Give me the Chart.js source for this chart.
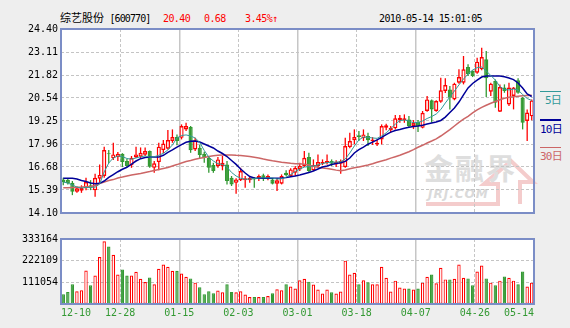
<!DOCTYPE html>
<html>
<head>
<meta charset="utf-8">
<script src="https://cdn.jsdelivr.net/npm/chart.js@4"></script>
<style>
  body { margin: 0; width: 570px; height: 328px; background: #eeeeee; position: relative; overflow: hidden; }
  .bg { position: absolute; background: #fff; }
  .t { position: absolute; top: 12px; font: 10px/14px "DejaVu Sans Mono", "Noto Sans CJK SC"; letter-spacing: -0.6px; white-space: nowrap; }
  .lg { position: absolute; left: 540px; width: 21px; text-align: right; font: 11px/14px "DejaVu Sans Mono", "Noto Sans CJK SC"; letter-spacing: -0.8px; padding-top: 2px; white-space: nowrap; }
  #wm { position: absolute; left: 424px; top: 150px; font: bold 29px/34px "Noto Sans CJK SC"; color: #dedede; letter-spacing: 2px; }
  #wm2 { position: absolute; left: 428px; top: 187px; font: italic bold 12px/14px "DejaVu Sans"; color: #dadada; letter-spacing: 1px; }
  canvas { position: absolute; left: 0; display: block; }
</style>
</head>
<body>
<div class="t" style="left:60px;color:#000"><span style="font-size:11px;letter-spacing:0">综艺股份</span> <span style="letter-spacing:-0.9px">[600770]</span></div>
<div class="t" style="left:163px;color:#f00">20.40</div>
<div class="t" style="left:204px;color:#f00">0.68</div>
<div class="t" style="left:245px;color:#f00">3.45%↑</div>
<div class="t" style="left:379px;color:#000">2010-05-14 15:01:05</div>

<div class="bg" style="left:61px;top:29px;width:473px;height:184px"></div>
<div class="bg" style="left:61px;top:239px;width:473px;height:65px"></div>
<svg style="position:absolute;left:0;top:0" width="570" height="328">
  <polyline points="426,204 498,204 498,184 484,184 511,161 533,182 520,182 520,204" fill="none" stroke="#f4cccc" stroke-width="4"/>
</svg>
<div id="wm">金融界</div>
<div id="wm2">JRJ.COM</div>

<div class="lg" style="top:91px;color:#339999;border-top:1px solid #339999">5日</div>
<div class="lg" style="top:119px;color:#000099;border-top:2px solid #000099">10日</div>
<div class="lg" style="top:147px;color:#cc6666;border-top:1px solid #cc6666">30日</div>

<canvas id="k" width="570" height="226" style="top:0"></canvas>
<canvas id="v" width="570" height="102" style="top:226px"></canvas>

<script>
const dateLabels = ['12-10', '12-28', '01-15', '02-03', '03-01', '03-18', '04-07', '04-26', '05-14'];
const priceTicks = [14.10, 15.39, 16.68, 17.96, 19.25, 20.54, 21.82, 23.11, 24.40];
const volTicks = [111054, 222109, 333164];

const openP = [15.98,15.96,15.79,15.29,15.35,15.48,15.65,15.37,16.02,16.17,
  17.45,17.16,17.23,17.42,17.01,16.77,17.21,17.25,17.36,17.57,
  16.63,16.95,17.62,17.70,18.13,18.35,18.31,18.78,18.91,17.66,
  17.75,17.42,17.19,16.78,16.73,16.73,16.82,16.07,15.79,15.93,
  15.93,15.93,16.07,16.04,16.22,16.04,15.98,15.74,15.74,16.35,
  16.17,16.35,16.54,16.73,17.23,16.49,16.73,16.86,16.90,17.01,
  16.82,16.86,16.67,17.79,18.17,18.45,18.28,18.41,18.13,17.94,
  18.22,18.87,18.73,18.84,19.29,19.29,19.34,18.97,19.19,18.87,
  19.81,20.41,19.81,20.33,20.93,21.02,20.46,21.39,21.39,22.27,
  22.05,21.95,22.14,22.70,20.89,21.49,19.77,21.12,20.18,20.65,
  21.53,20.55,19.25,19.51];
const highP = [16.07,16.04,15.89,15.59,15.65,16.07,15.94,16.30,16.82,17.81,
  17.62,18.03,17.51,17.45,17.12,17.29,17.81,17.77,17.77,17.60,
  17.01,18.03,18.18,18.74,18.78,18.50,19.06,19.15,18.97,18.31,
  17.94,17.53,17.29,16.91,17.23,17.29,17.01,16.17,16.04,16.63,
  16.17,16.11,16.11,16.26,16.30,16.26,16.04,16.04,16.26,16.49,
  16.60,16.73,16.91,17.57,17.47,17.10,17.38,17.10,17.38,17.10,
  17.05,17.10,18.31,18.59,18.78,18.69,18.78,18.59,18.35,18.22,
  19.06,19.10,18.97,19.58,19.58,19.62,19.53,19.30,19.30,19.81,
  20.65,20.46,20.41,21.67,21.64,21.21,21.39,22.14,22.89,22.42,
  22.09,22.79,23.35,23.17,21.39,21.58,21.30,21.30,21.39,21.15,
  21.64,20.59,19.90,20.45];
const lowP = [15.65,15.70,15.10,15.23,15.23,15.38,15.38,15.01,15.79,16.07,
  16.88,17.07,17.01,16.67,16.67,16.63,17.18,17.16,17.29,16.63,
  16.35,16.50,17.44,17.66,18.03,17.89,18.22,18.69,17.47,17.57,
  17.16,16.91,16.35,16.35,16.63,16.49,15.70,15.61,15.18,15.89,
  15.51,15.80,15.51,15.89,15.89,15.93,15.70,15.33,15.70,16.17,
  16.11,16.17,16.45,16.67,16.35,16.45,16.63,16.78,16.82,16.73,
  16.67,16.30,16.63,17.72,17.94,18.13,18.13,17.85,17.91,17.85,
  17.94,18.73,18.59,18.78,19.15,19.15,18.91,18.80,18.63,18.84,
  19.77,19.15,19.77,20.27,20.82,19.90,20.41,21.34,21.30,21.77,
  21.71,21.90,22.09,20.59,20.65,19.99,19.75,20.83,20.09,19.90,
  20.78,18.78,18.13,19.29];
const closeP = [15.83,15.76,15.29,15.48,15.51,15.83,15.51,16.07,16.23,17.62,
  17.39,17.38,17.42,16.95,16.73,17.19,17.38,17.47,17.57,16.69,
  16.88,17.81,17.99,18.18,18.35,18.13,18.97,18.97,17.61,18.17,
  17.34,17.19,16.63,16.45,17.10,16.91,15.89,15.70,15.98,16.45,
  16.04,16.07,15.98,16.17,16.04,16.17,15.74,15.93,16.17,16.22,
  16.54,16.63,16.73,17.19,16.45,16.78,16.95,16.95,17.01,16.86,
  16.95,17.01,17.85,18.13,18.35,18.35,18.50,18.17,18.22,18.03,
  18.97,19.01,18.87,19.40,19.43,19.40,18.97,19.15,18.97,19.71,
  20.46,19.90,20.37,20.97,21.26,20.55,21.34,21.71,22.14,21.86,
  21.77,22.57,22.83,21.65,21.34,20.27,21.15,20.93,21.12,21.12,
  20.83,19.15,19.72,20.40];
const volume = [50500,62100,101000,65600,70700,171600,95900,146400,240800,321600,
  294300,252400,151400,176700,146400,146400,165100,129700,112600,136300,
  101000,180200,201900,190300,170100,170100,156500,139800,131200,109500,
  85800,50500,65600,55500,69200,60600,101000,62100,60600,65600,
  49000,35300,35300,35300,35300,40400,55500,75700,70700,101000,
  89300,79300,121200,129700,114600,99400,74200,54000,74200,60600,
  54000,64100,222100,151400,160000,101000,121200,111100,101000,101000,
  190300,134800,64100,119600,84300,79300,79300,74200,79300,109500,
  139800,151400,106000,185300,126200,126200,129700,201900,134800,131200,
  95900,166600,196900,131200,109500,95900,119600,141300,134800,119600,
  101000,166600,89300,109500];
const ma5 = [15.83,15.78,15.67,15.55,15.50,15.53,15.53,15.55,15.72,16.40,
  16.90,17.18,17.29,17.26,17.15,17.11,17.18,17.25,17.29,17.23,
  17.25,17.33,17.44,17.63,17.91,18.30,18.44,18.47,18.41,18.30,
  18.05,17.60,17.23,17.01,16.86,16.82,16.67,16.37,16.17,16.04,
  15.99,16.00,16.03,16.06,16.07,16.07,16.06,16.00,16.02,16.11,
  16.25,16.42,16.56,16.67,16.70,16.73,16.79,16.87,16.92,16.94,
  16.95,16.97,17.12,17.46,17.85,18.19,18.35,18.34,18.30,18.28,
  18.41,18.59,18.82,19.08,19.27,19.31,19.25,19.15,19.17,19.25,
  19.39,19.50,19.64,19.89,20.26,20.59,20.93,21.27,21.60,21.88,
  22.10,22.24,22.27,22.05,21.80,21.54,21.18,21.01,20.99,21.04,
  20.99,20.73,20.51,20.40];
const ma10 = [16.04,16.04,16.04,16.00,15.92,15.86,15.78,15.74,15.76,15.89,
  16.09,16.25,16.41,16.55,16.66,16.83,17.01,17.14,17.21,17.23,
  17.23,17.23,17.33,17.49,17.63,17.79,17.93,18.06,18.12,18.13,
  18.07,17.96,17.85,17.74,17.57,17.43,17.26,17.04,16.82,16.56,
  16.34,16.14,16.06,16.04,16.04,16.04,16.04,16.04,16.06,16.09,
  16.13,16.17,16.23,16.30,16.37,16.45,16.56,16.67,16.73,16.81,
  16.87,16.91,16.99,17.18,17.46,17.65,17.79,17.95,18.07,18.19,
  18.33,18.49,18.63,18.72,18.77,18.84,18.90,18.94,18.97,19.01,
  19.08,19.14,19.19,19.28,19.47,19.73,19.98,20.31,20.71,21.10,
  21.35,21.54,21.71,21.77,21.77,21.77,21.77,21.73,21.66,21.57,
  21.38,21.10,20.76,20.62];
const ma30 = [15.51,15.52,15.53,15.54,15.55,15.57,15.58,15.64,15.75,15.83,
  15.92,15.97,16.06,16.11,16.17,16.23,16.27,16.31,16.37,16.42,
  16.48,16.53,16.59,16.65,16.73,16.81,16.90,16.98,17.04,17.11,
  17.16,17.21,17.26,17.30,17.33,17.35,17.35,17.35,17.33,17.32,
  17.29,17.26,17.22,17.18,17.12,17.07,17.02,16.98,16.94,16.91,
  16.88,16.86,16.85,16.83,16.79,16.71,16.66,16.62,16.59,16.55,
  16.50,16.47,16.51,16.58,16.63,16.67,16.73,16.79,16.86,16.94,
  17.01,17.08,17.17,17.25,17.33,17.43,17.53,17.65,17.78,17.89,
  18.02,18.13,18.25,18.41,18.59,18.77,18.97,19.17,19.35,19.51,
  19.70,19.87,20.01,20.13,20.24,20.34,20.44,20.52,20.58,20.61,
  20.64,20.66,20.68,20.69];

const UP = '#ff0000';
const DOWN = '#339933';
const n = closeP.length;
const step = n / (dateLabels.length - 1);
const xs = closeP.map((_, i) => i + 0.5);
const isUp = closeP.map((c, i) => c >= openP[i]);
const pts = arr => arr.map((v, i) => ({ x: xs[i], y: v }));
const fills = isUp.map(u => u ? '#ffffff' : DOWN);
const edges = isUp.map(u => u ? UP : DOWN);

Chart.defaults.font.family = 'DejaVu Sans Mono';
Chart.defaults.font.size = 10;
Chart.defaults.color = '#000';

// blue frame around each plot
const frame = {
  id: 'frame',
  afterDraw(chart) {
    const { ctx, chartArea: a } = chart;
    ctx.save();
    ctx.strokeStyle = '#7b8dc6';
    ctx.lineWidth = 2;
    ctx.strokeRect(a.left, a.top, a.right - a.left, a.bottom - a.top);
    ctx.restore();
  }
};

function xScale(withLabels) {
  return {
    type: 'linear', min: 0, max: n, offset: false,
    afterBuildTicks: s => { s.ticks = dateLabels.map((_, k) => ({ value: k * step })); },
    afterFit: s => { s.height = withLabels ? 24 : 0; },
    grid: {
      offset: false,
      drawTicks: false,
      color: c => (c.index === 0 || c.index === dateLabels.length - 1) ? 'rgba(0,0,0,0)' : '#c6c6c6',
      lineWidth: c => c.index % 2 ? 1 : 1.5
    },
    border: { display: false, dash: c => (c.index % 2 ? [3, 2] : []) },
    ticks: {
      display: withLabels, align: 'inner', padding: 3, color: DOWN,
      maxRotation: 0, autoSkip: false,
      callback: (v, k) => dateLabels[k]
    }
  };
}

function yScale(tickVals, min, fmt) {
  return {
    min: min, max: tickVals[tickVals.length - 1],
    afterBuildTicks: s => { s.ticks = tickVals.map(v => ({ value: v })); },
    afterFit: s => { s.width = 61; },
    grid: { drawTicks: false, color: '#c4c4c4' },
    border: { display: false, dash: [3, 2] },
    ticks: { padding: 3, color: '#000', callback: fmt }
  };
}

const common = {
  responsive: false,
  maintainAspectRatio: false,
  animation: false,
  events: [],
  plugins: { legend: { display: false }, tooltip: { enabled: false } }
};

new Chart(document.getElementById('k'), {
  type: 'bar',
  data: {
    datasets: [
      { type: 'line', data: pts(ma5), borderColor: '#339999', borderWidth: 1, pointRadius: 0, order: 0 },
      { type: 'line', data: pts(ma10), borderColor: '#000099', borderWidth: 1.5, pointRadius: 0, order: 0 },
      { type: 'line', data: pts(ma30), borderColor: '#cc6666', borderWidth: 1.5, pointRadius: 0, order: 0 },
      {
        data: xs.map((x, i) => ({ x, y: [openP[i], closeP[i]] })),
        backgroundColor: fills, borderColor: edges, borderWidth: 1.4,
        borderSkipped: false, barThickness: 4.2, grouped: false, inflateAmount: 0, order: 1
      },
      {
        data: xs.map((x, i) => ({ x, y: [lowP[i], highP[i]] })),
        backgroundColor: edges, borderWidth: 0,
        barThickness: 1.3, grouped: false, inflateAmount: 0, order: 2
      }
    ]
  },
  options: Object.assign({}, common, {
    layout: { padding: { top: 29, right: 36, bottom: 13, left: 0 } },
    scales: {
      x: xScale(false),
      y: yScale(priceTicks, priceTicks[0], v => v.toFixed(2))
    }
  }),
  plugins: [frame]
});

new Chart(document.getElementById('v'), {
  type: 'bar',
  data: {
    datasets: [{
      data: xs.map((x, i) => ({ x, y: volume[i] })),
      backgroundColor: fills, borderColor: edges, borderWidth: 1.2,
      borderSkipped: false, barThickness: 3.4, inflateAmount: 0
    }]
  },
  options: Object.assign({}, common, {
    layout: { padding: { top: 13, right: 36, bottom: 0, left: 0 } },
    scales: {
      x: xScale(true),
      y: yScale(volTicks, 0, v => String(v))
    }
  }),
  plugins: [frame]
});
</script>
</body>
</html>
